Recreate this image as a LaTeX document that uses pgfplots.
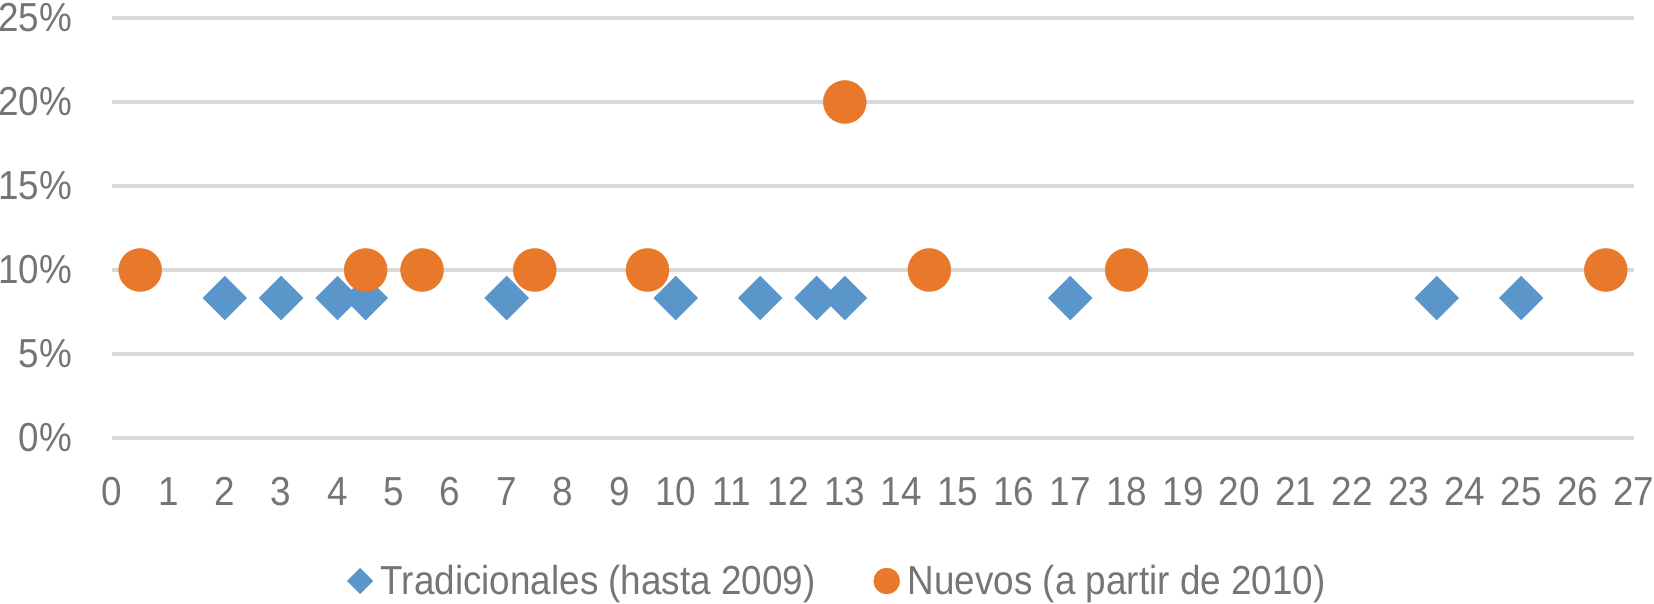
\documentclass[border=0pt]{standalone}
\usepackage{fontspec}
\setmainfont{Liberation Sans}[FakeStretch=0.91]
\usepackage{pgfplots}
\pgfplotsset{compat=1.18}
\definecolor{tradblue}{HTML}{5A96CA}
\definecolor{nuevoorange}{HTML}{E8782A}
\definecolor{txtgray}{HTML}{757575}
\definecolor{gridgray}{HTML}{D9D9D9}
\begin{document}
\begin{tikzpicture}
\useasboundingbox (0,0) rectangle (1654bp,604bp);
\begin{axis}[
  at={(112bp,166bp)}, anchor=south west,
  scale only axis, width=1522bp, height=420bp,
  xmin=0, xmax=27, ymin=0, ymax=25,
  xtick={0,1,...,27}, ytick={0,5,...,25},
  yticklabel={\pgfmathprintnumber{\tick}\%},
  /pgf/number format/assume math mode=true,
  axis line style={draw=none},
  major tick length=0pt,
  ymajorgrids, xmajorgrids=false,
  major grid style={color=gridgray, line width=3.2bp},
  tick label style={font=\fontsize{40.5bp}{46bp}\selectfont, text=txtgray, inner sep=0pt},
  yticklabel style={anchor=east, xshift=-40bp},
  xticklabel style={anchor=north, yshift=-39bp},
  clip=false,
  legend columns=2,
  legend style={at={(0.476,0)}, anchor=center, yshift=-143bp, draw=none, fill=none,
    font=\fontsize{40.5bp}{46bp}\selectfont, text=txtgray,
    nodes={inner sep=0pt},
    /tikz/every odd column/.append style={column sep=8bp},
    /tikz/every even column/.append style={column sep=58bp}},
]
\addplot[only marks, color=tradblue, mark=square*, mark size=15.5bp, mark options={rotate=45, fill=tradblue, draw=tradblue},
  legend image code/.code={\draw[mark=square*, mark size=9bp, mark options={rotate=45, fill=tradblue, draw=tradblue}] plot coordinates {(0bp,0bp)};}]
coordinates {
(2,8.333) (3,8.333) (4,8.333) (4.5,8.333) (7,8.333) (10,8.333) (11.5,8.333)
(12.5,8.333) (13,8.333) (17,8.333) (23.5,8.333) (25,8.333)
};
\addlegendentry{Tradicionales (hasta 2009)}
\addplot[only marks, color=nuevoorange, mark=*, mark size=21.5bp, mark options={fill=nuevoorange, draw=nuevoorange},
  legend image code/.code={\draw[mark=*, mark size=13bp, mark options={fill=nuevoorange, draw=nuevoorange}] plot coordinates {(0bp,0bp)};}]
coordinates {
(0.5,10) (4.5,10) (5.5,10) (7.5,10) (9.5,10) (13,20) (14.5,10) (18,10) (26.5,10)
};
\addlegendentry{Nuevos (a partir de 2010)}
\end{axis}
\end{tikzpicture}
\end{document}
